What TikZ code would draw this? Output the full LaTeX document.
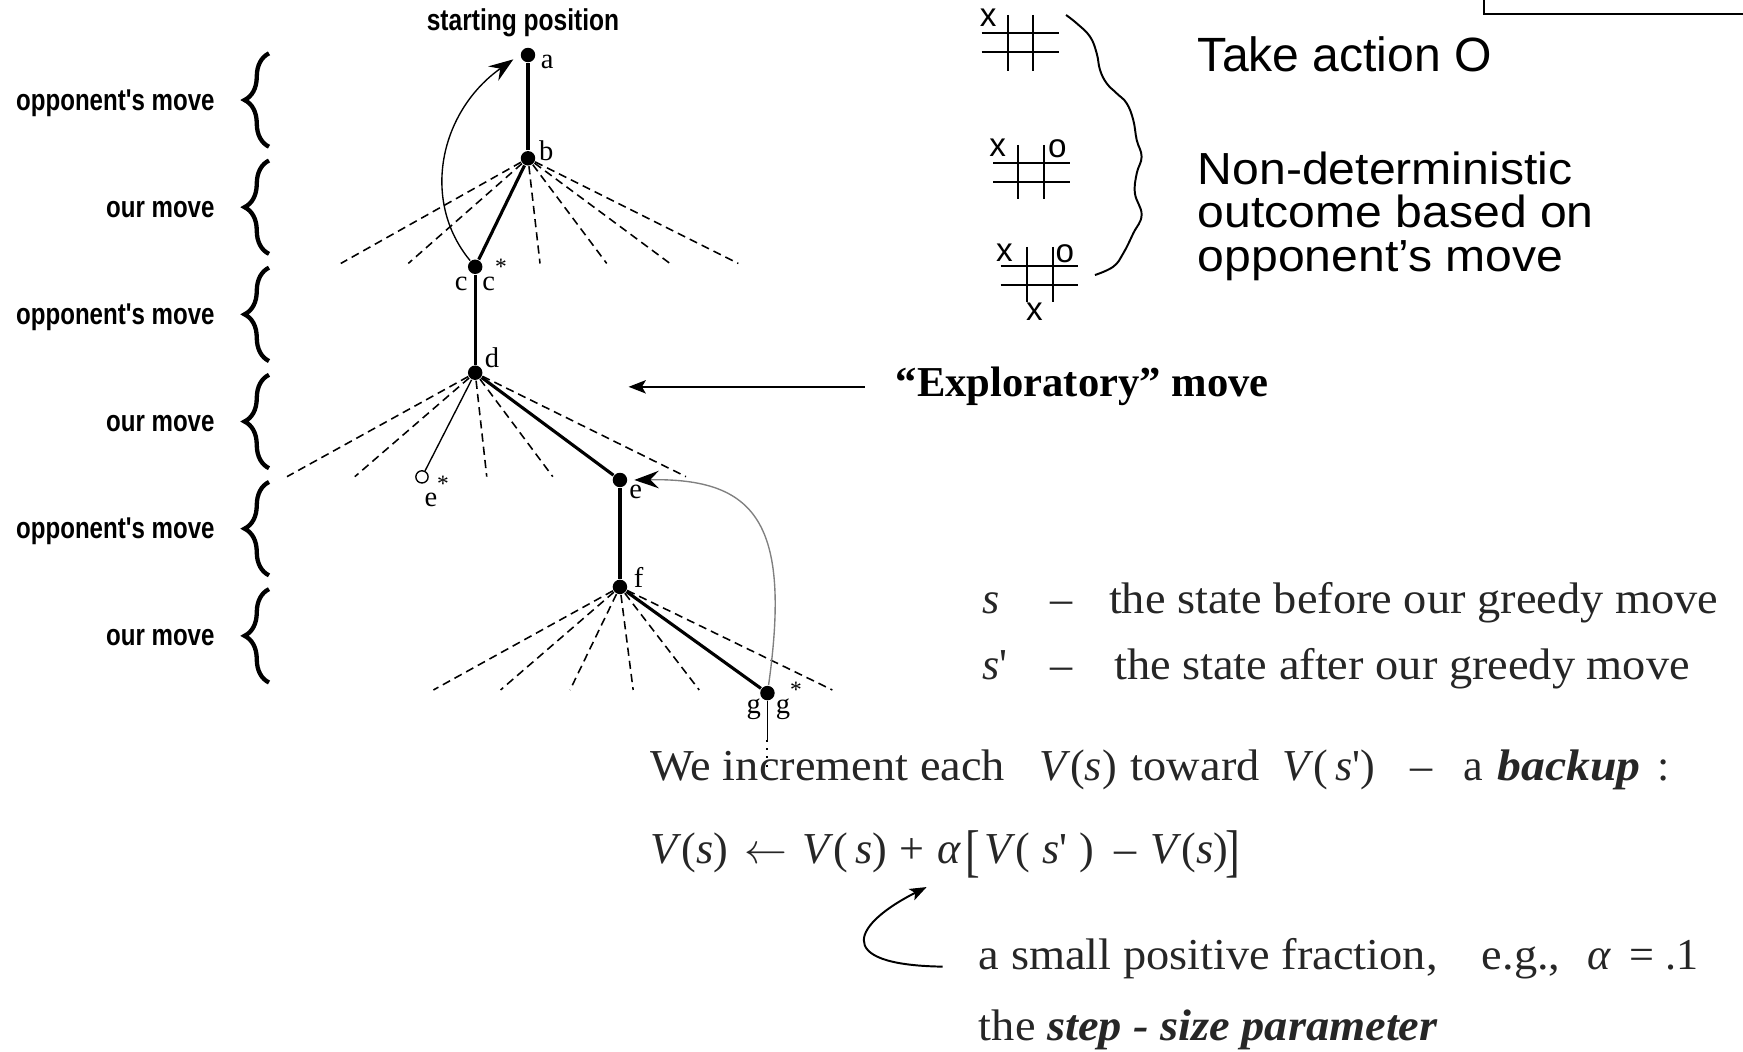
\documentclass[tikz,border=0pt]{standalone}
\usepackage{fontspec}
\usepackage{graphicx}
\setmainfont{Liberation Serif}
\newfontfamily\arialf{Liberation Sans}
\usetikzlibrary{arrows.meta,decorations.pathreplacing}
\newcommand\myfs[1]{\fontsize{#1}{#1}\selectfont}
\newcommand\hsx[2]{\scalebox{#1}[1]{#2}}
\newcommand\starup{\raisebox{0.55em}{\myfs{6pt}*}}
\newcommand\tallbr[1]{\raisebox{-1.8pt}{\scalebox{1}[1.3]{#1}}}
\begin{document}
\begin{tikzpicture}[x=0.01cm,y=-0.01cm,
  dotn/.style={circle,fill=black,inner sep=0pt,minimum size=0.13cm},
  edgel/.style={line width=0.8pt},
  dashl/.style={line width=0.4pt,dash pattern=on 2.1pt off 1.3pt},
  treelbl/.style={font=\myfs{7.3pt},inner sep=0pt,anchor=base west},
  movelbl/.style={font=\arialf\bfseries\myfs{7.7pt},inner sep=0pt,anchor=base east},
  bracel/.style={decorate,decoration={brace,amplitude=0.22cm,aspect=0.5},line width=1.1pt},
  boardl/.style={line width=0.45pt},
  xomark/.style={font=\arialf\myfs{8.5pt},inner sep=0pt,anchor=base},
  sanst/.style={font=\arialf\myfs{11.5pt},inner sep=0pt,anchor=base west},
  bodyt/.style={font=\myfs{11.3pt},inner sep=0pt,anchor=base west,text=black!85},
  bigtip/.style={-{Stealth[length=6.3pt,width=4.5pt,inset=2.2pt,color=black]}}
]
\useasboundingbox (0,0) rectangle (1568,946);

% corner of a box at top right
\draw[line width=0.4pt] (1335,0) -- (1335,12.6) -- (1568,12.6);

% ---------- left braces and labels ----------
\node[font=\arialf\bfseries\myfs{7.7pt},inner sep=0pt,anchor=base] (sp) at (470.5,27.6) {\hsx{0.816}{starting position}};
\foreach \cy [count=\i] in {90,186.4,282.8,379.2,475.6,572}{
  \coordinate (bbot\i) at (242,\cy+42);
  \coordinate (btop\i) at (242,\cy-42);
  \draw[bracel] (bbot\i) -- (btop\i);
}
\node[movelbl] (m1) at (193.7,99)    {\hsx{0.8}{opponent\textquotesingle s move}};
\node[movelbl] (m2) at (193.7,195.4) {\hsx{0.8}{our move}};
\node[movelbl] (m3) at (193.7,291.8) {\hsx{0.8}{opponent\textquotesingle s move}};
\node[movelbl] (m4) at (193.7,388.2) {\hsx{0.8}{our move}};
\node[movelbl] (m5) at (193.7,484.6) {\hsx{0.8}{opponent\textquotesingle s move}};
\node[movelbl] (m6) at (193.7,581)   {\hsx{0.8}{our move}};

% ---------- tree ----------
\node[dotn] (a) at (475,49.5) {};
\node[dotn] (b) at (475,142.4) {};
\node[dotn] (c) at (427.5,240) {};
\node[dotn] (d) at (427.5,335.3) {};
\node[dotn] (e) at (557.7,431.8) {};
\node[circle,draw,inner sep=0pt,minimum size=0.11cm,line width=0.35pt] (es) at (379.6,429) {};
\node[dotn] (f) at (557.7,528) {};
\node[dotn] (g) at (690.4,623.5) {};

\foreach \x [count=\i] in {306.6,367.3,485.8,545.8,602.7,664.2}{
  \coordinate (bd\i) at (\x,237);
  \draw[dashl] (b) -- (bd\i);
}
\foreach \x [count=\i] in {258.2,319.2,437.9,497.3,617.1}{
  \coordinate (dd\i) at (\x,428.8);
  \draw[dashl] (d) -- (dd\i);
}
\foreach \x [count=\i] in {389.9,450.3,512.8,569.6,629,748.8}{
  \coordinate (fd\i) at (\x,620.7);
  \draw[dashl] (f) -- (fd\i);
}
\draw[edgel] (a) -- (b);
\draw[edgel] (b) -- (c);
\draw[edgel] (c) -- (d);
\draw[edgel] (d) -- (e);
\draw[edgel] (e) -- (f);
\draw[edgel] (f) -- (g);
\draw[line width=0.35pt] (d) -- (es);
\coordinate (gend) at (690.4,665.7);
\coordinate (gdot) at (690.4,690);
\draw[line width=0.45pt] (g) -- (gend);
\draw[line width=0.5pt,dash pattern=on 0.5pt off 1.6pt] (gend) -- (gdot);

\node[treelbl] (la)  at (485.8,61.5) {a};
\node[treelbl] (lb)  at (484.3,144.5) {b};
\node[treelbl] (lc)  at (408.4,261) {c};
\node[treelbl] (lcs) at (433.3,261) {c\starup};
\node[treelbl] (ld)  at (435.4,331) {d};
\node[treelbl] (le)  at (565.5,448.3) {e};
\node[treelbl] (les) at (381.2,456) {e\starup};
\node[treelbl] (lf)  at (569.6,528.4) {f};
\node[treelbl] (lg)  at (671,642) {g};
\node[treelbl] (lgs) at (697.2,642) {g\starup};

% curved arrows
\coordinate (ta) at (461.8,53.4);
\draw[line width=0.35pt,bigtip] (c) .. controls (378,180) and (396,100) .. (ta);
\coordinate (te) at (570.6,431.8);
\draw[line width=0.35pt,black!50,bigtip] (g) .. controls (712,470) and (680,430) .. (te);

% exploratory move
\node[font=\bfseries\myfs{10.9pt},inner sep=0pt,anchor=base west] (expl) at (805.2,356.8) {“Exploratory” move};
\coordinate (xs) at (778,348);
\coordinate (xt) at (565.5,348);
\draw[line width=0.5pt,-{Stealth[length=4.4pt,width=3.4pt,inset=1pt]}] (xs) -- (xt);

% ---------- tic-tac-toe boards ----------
\draw[boardl] (883.1,30) -- (953,30) (883.1,47) -- (953,47)
  (906.5,13.5) -- (906.5,63.6) (929.6,13.5) -- (929.6,63.6);
\node[xomark] (x1) at (889,24) {x};

\draw[boardl] (893.6,146.3) -- (962.6,146.3) (893.6,163.4) -- (962.6,163.4)
  (916,130.4) -- (916,179.3) (939.2,130.4) -- (939.2,179.3);
\node[xomark] (x2) at (897.4,141) {x};
\node[xomark] (o2) at (951.3,142) {o};

\draw[boardl] (900.2,239.3) -- (970,239.3) (900.2,256.4) -- (970,256.4)
  (923.6,222) -- (923.6,272) (947,222) -- (947,272);
\node[xomark] (x3) at (903.5,235.4) {x};
\node[xomark] (o3) at (958,236) {o};
\node[xomark] (x4) at (930.5,287.9) {x};

\draw[line width=0.5pt] plot[smooth,tension=0.7] coordinates {(959,13.5) (968.6,21) (980.6,33) (986.6,48) (989.6,63) (995.6,75) (1004.6,84) (1013.6,93) (1019.5,108) (1022.6,126) (1027,141) (1022.6,156) (1021,174) (1027,193.4) (1019.5,209.9) (1010.5,227.9) (1001.5,239.9) (985,247.4)};

\node[font=\arialf\myfs{12.3pt},inner sep=0pt,anchor=base west] (tk) at (1077,64.5) {Take action O};
\node[sanst] (nd1) at (1077,166) {\hsx{1.07}{Non-deterministic}};
\node[sanst] (nd2) at (1077,205) {\hsx{1.07}{outcome based on}};
\node[sanst] (nd3) at (1077,244) {\hsx{1.07}{opponent’s move}};

% ---------- bottom right text ----------
\node[bodyt] (s1)  at (883,551.7) {\textit{s}};
\node[bodyt] (s1d) at (944.6,551.7) {–};
\node[bodyt] (s1t) at (997,551.7) {\hsx{1.05}{the state before our greedy move}};
\node[bodyt] (s2)  at (883,611.7) {\textit{s}\textquotesingle};
\node[bodyt] (s2d) at (944.6,611.7) {–};
\node[bodyt] (s2t) at (1001.6,611.7) {\hsx{1.05}{the state after our greedy move}};

\node[bodyt] (w1) at (584.7,702) {\hsx{1.05}{We increment each}};
\node[bodyt] (w2) at (934,702) {\textit{V}(\textit{s})};
\node[bodyt] (w3) at (1016.6,702) {\hsx{1.05}{toward}};
\node[bodyt] (w4) at (1153,702) {\textit{V}(\,\textit{s}\textquotesingle)};
\node[bodyt] (w5) at (1268.6,702) {–};
\node[bodyt] (w6) at (1316,702) {a};
\node[bodyt] (w7) at (1346.4,702) {\hsx{1.08}{\textbf{\textit{backup}}}};
\node[bodyt] (w8) at (1490,702) {:};

\node[bodyt] (f1)  at (584.7,776.6) {\textit{V}(\textit{s})};
\node[bodyt] (f2)  at (668.7,776.6) {$\leftarrow$};
\node[bodyt] (f3)  at (721.2,776.6) {\textit{V}(\,\textit{s})};
\node[bodyt] (f4)  at (808.1,776.6) {+};
\node[bodyt] (f5)  at (842.6,776.6) {\textit{α}};
\node[bodyt] (f6)  at (868.1,776.6) {\tallbr{[}};
\node[bodyt] (f7)  at (884.6,776.6) {\textit{V}(\;\textit{s}\textquotesingle\;)};
\node[bodyt] (f8)  at (1002,776.6) {–};
\node[bodyt] (f9)  at (1034,776.6) {\textit{V}(\textit{s})};
\node[bodyt] (f10) at (1102,776.6) {\tallbr{]}};

\node[bodyt] (p1) at (880,872.6) {\hsx{1.05}{a small positive fraction,}};
\node[bodyt] (p2) at (1332.4,872.6) {\hsx{1.05}{e.g.,}};
\node[bodyt] (p3) at (1427.5,872.6) {\textit{α}};
\node[bodyt] (p4) at (1464.9,872.6) {=};
\node[bodyt] (p5) at (1497.3,872.6) {.1};
\node[bodyt] (q1) at (880,935.6) {\hsx{1.05}{the \textbf{\textit{step - size parameter}}}};

\coordinate (bs) at (848,869.6);
\coordinate (bt) at (833.6,798);
\draw[line width=0.5pt,-{Stealth[length=4.3pt,width=3.2pt,inset=1pt]}] (bs) .. controls (745,868) and (770,830) .. (bt);
\end{tikzpicture}
\end{document}
